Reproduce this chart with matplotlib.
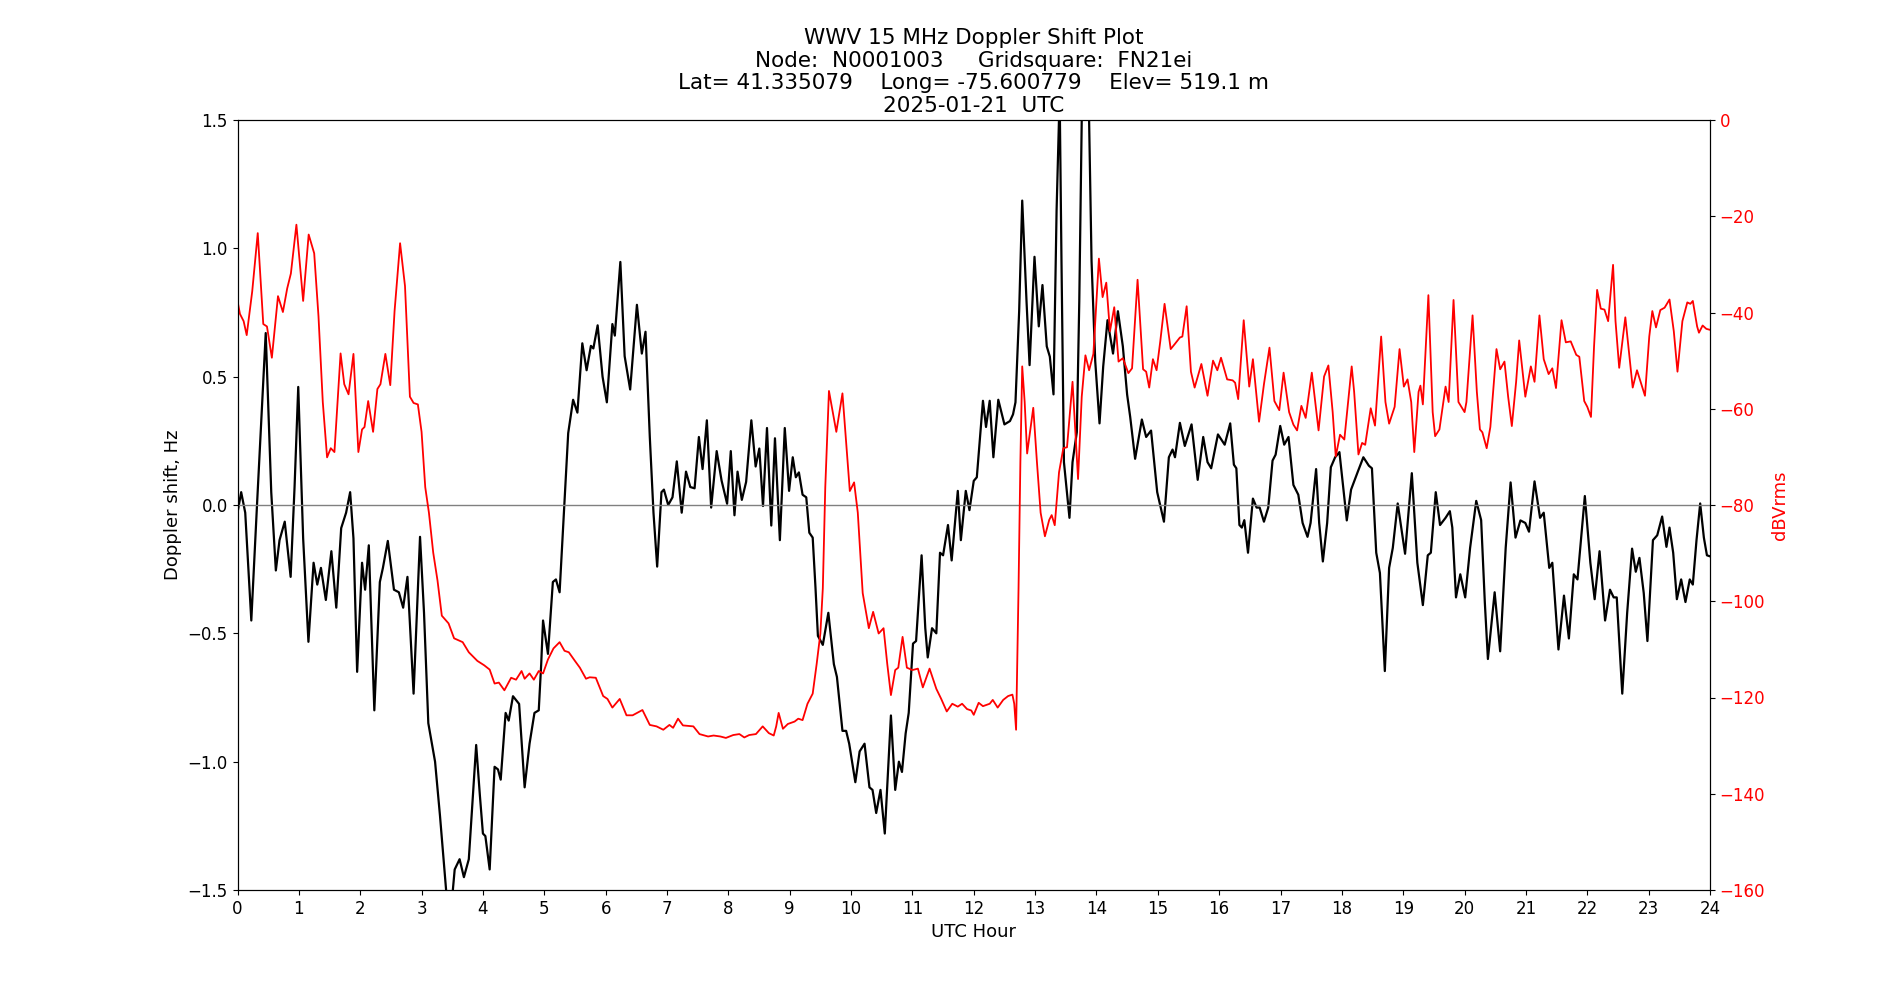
import matplotlib
matplotlib.use("Agg")
import matplotlib.pyplot as plt

title_lines = [
    "WWV 15 MHz Doppler Shift Plot",
    "Node:  N0001003     Gridsquare:  FN21ei",
    "Lat= 41.335079    Long= -75.600779    Elev= 519.1 m",
    "2025-01-21  UTC",
]

doppler_hours = [
    0.00, 0.06, 0.126, 0.225, 0.32, 0.46, 0.55, 0.625, 0.685, 0.77, 0.866, 0.93, 0.99,
    1.07, 1.156, 1.24, 1.30, 1.36, 1.44, 1.53, 1.61, 1.69, 1.77, 1.836, 1.89, 1.95,
    2.03, 2.08, 2.14, 2.23, 2.32, 2.37, 2.45, 2.55, 2.63, 2.70, 2.77, 2.87, 2.975,
    3.04, 3.11, 3.22, 3.30, 3.40, 3.46, 3.51, 3.54, 3.62, 3.69, 3.77, 3.89, 3.95,
    4.00, 4.04, 4.11, 4.19, 4.245, 4.29, 4.37, 4.42, 4.49, 4.59, 4.68, 4.76, 4.84, 4.91, 4.95, 4.98,
    5.06, 5.14, 5.19, 5.25, 5.33, 5.39, 5.47, 5.54, 5.62, 5.69, 5.76, 5.80, 5.87, 5.95,
    6.02, 6.11, 6.15, 6.24, 6.31, 6.40, 6.51, 6.59, 6.65, 6.72, 6.78, 6.84, 6.91, 6.95,
    7.02, 7.09, 7.16, 7.24, 7.31, 7.38, 7.45, 7.52, 7.58, 7.65, 7.72, 7.81, 7.89, 7.98,
    8.04, 8.10, 8.15, 8.22, 8.29, 8.375, 8.445, 8.505, 8.565, 8.63, 8.70, 8.76, 8.84, 8.92, 8.99,
    9.05, 9.10, 9.15, 9.21, 9.27, 9.32, 9.375, 9.42, 9.46, 9.54, 9.63, 9.72, 9.77, 9.86, 9.92, 9.97,
    10.07, 10.14, 10.22, 10.30, 10.35, 10.41, 10.48, 10.55, 10.65, 10.72, 10.78, 10.83, 10.89, 10.94,
    11.01, 11.06, 11.15, 11.21, 11.25, 11.32, 11.39, 11.45, 11.50, 11.58, 11.64, 11.74, 11.79, 11.87, 11.93,
    12.00, 12.05, 12.15, 12.20, 12.26, 12.32, 12.40, 12.50, 12.59, 12.64, 12.68, 12.74, 12.79, 12.86, 12.91, 12.99,
    13.06, 13.12, 13.19, 13.24, 13.30, 13.35, 13.40, 13.43, 13.47, 13.56, 13.61, 13.68, 13.72, 13.76, 13.82, 13.88, 13.92, 13.98,
    14.05, 14.11, 14.18, 14.27, 14.35, 14.43, 14.50, 14.55, 14.63, 14.74, 14.81, 14.89, 14.99,
    15.10, 15.18, 15.24, 15.28, 15.36, 15.44, 15.55, 15.65, 15.74, 15.81, 15.87, 15.98,
    16.09, 16.18, 16.24, 16.28, 16.33, 16.37, 16.41, 16.47, 16.55, 16.61, 16.66, 16.73, 16.80, 16.87, 16.92, 16.995,
    17.06, 17.13, 17.21, 17.29, 17.36, 17.44, 17.49, 17.58, 17.63, 17.69, 17.76, 17.82, 17.89, 17.96,
    18.03, 18.08, 18.15, 18.26, 18.35, 18.44, 18.49, 18.56, 18.62, 18.70, 18.77, 18.83, 18.91,
    19.03, 19.14, 19.23, 19.32, 19.40, 19.45, 19.53, 19.60, 19.69, 19.76, 19.80, 19.86, 19.93,
    20.01, 20.09, 20.19, 20.27, 20.33, 20.38, 20.49, 20.58, 20.67, 20.75, 20.83, 20.91, 20.99,
    21.05, 21.14, 21.23, 21.29, 21.38, 21.43, 21.53, 21.62, 21.70, 21.78, 21.84, 21.96,
    22.05, 22.12, 22.20, 22.29, 22.37, 22.43, 22.48, 22.57, 22.65, 22.73, 22.79, 22.85, 22.92, 22.98,
    23.07, 23.14, 23.22, 23.29, 23.34, 23.40, 23.46, 23.53, 23.60, 23.67, 23.72, 23.78, 23.84, 23.90, 23.95, 24.00,
]

doppler_hz = [
    -0.03, 0.05, -0.03, -0.45, 0.01, 0.67, 0.05, -0.255, -0.137, -0.065, -0.28, 0.07, 0.46,
    -0.13, -0.533, -0.225, -0.31, -0.245, -0.37, -0.18, -0.40, -0.09, -0.03, 0.05, -0.13, -0.65,
    -0.225, -0.33, -0.157, -0.80, -0.30, -0.245, -0.14, -0.33, -0.34, -0.40, -0.28, -0.735, -0.124,
    -0.42, -0.85, -1.0, -1.21, -1.5, -1.62, -1.5, -1.42, -1.38, -1.45, -1.38, -0.935, -1.13,
    -1.28, -1.29, -1.42, -1.02, -1.03, -1.07, -0.81, -0.84, -0.745, -0.775, -1.10, -0.93, -0.81, -0.80, -0.62, -0.45,
    -0.58, -0.30, -0.29, -0.34, 0.01, 0.28, 0.41, 0.36, 0.63, 0.525, 0.62, 0.61, 0.70, 0.50,
    0.40, 0.705, 0.66, 0.947, 0.58, 0.45, 0.78, 0.59, 0.675, 0.265, -0.03, -0.24, 0.05, 0.06,
    0.0, 0.03, 0.17, -0.03, 0.13, 0.07, 0.065, 0.265, 0.14, 0.33, -0.01, 0.21, 0.095, 0.005,
    0.21, -0.04, 0.13, 0.02, 0.09, 0.33, 0.15, 0.22, -0.004, 0.30, -0.08, 0.26, -0.137, 0.30, 0.055,
    0.186, 0.108, 0.127, 0.04, 0.03, -0.108, -0.127, -0.32, -0.51, -0.545, -0.42, -0.62, -0.67, -0.88, -0.88, -0.93,
    -1.08, -0.96, -0.93, -1.10, -1.11, -1.20, -1.11, -1.28, -0.82, -1.11, -1.0, -1.04, -0.89, -0.81,
    -0.54, -0.53, -0.196, -0.48, -0.594, -0.48, -0.50, -0.186, -0.196, -0.078, -0.216, 0.055, -0.137, 0.055, -0.02,
    0.094, 0.108, 0.406, 0.304, 0.406, 0.186, 0.41, 0.314, 0.327, 0.353, 0.40, 0.755, 1.186, 0.794, 0.545, 0.967,
    0.696, 0.857, 0.618, 0.578, 0.431, 1.147, 1.6, 0.95, 0.167, -0.05, 0.167, 0.284, 0.794, 1.5, 1.75, 1.5, 0.95, 0.56,
    0.318, 0.54, 0.72, 0.59, 0.755, 0.618, 0.43, 0.343, 0.18, 0.333, 0.265, 0.29, 0.05,
    -0.065, 0.186, 0.216, 0.186, 0.32, 0.23, 0.314, 0.098, 0.265, 0.167, 0.143, 0.275,
    0.235, 0.318, 0.157, 0.143, -0.078, -0.088, -0.059, -0.186, 0.025, -0.01, -0.01, -0.065, -0.01, 0.173, 0.196, 0.308,
    0.235, 0.265, 0.078, 0.04, -0.07, -0.124, -0.07, 0.14, -0.07, -0.22, -0.07, 0.147, 0.186, 0.206,
    0.05, -0.06, 0.06, 0.13, 0.186, 0.153, 0.143, -0.186, -0.265, -0.647, -0.245, -0.167, 0.006,
    -0.19, 0.124, -0.225, -0.39, -0.196, -0.186, 0.05, -0.078, -0.05, -0.024, -0.088, -0.36, -0.27,
    -0.36, -0.167, 0.016, -0.059, -0.38, -0.60, -0.34, -0.57, -0.167, 0.088, -0.127, -0.06, -0.07,
    -0.104, 0.092, -0.05, -0.03, -0.245, -0.225, -0.563, -0.353, -0.52, -0.27, -0.29, 0.035,
    -0.225, -0.367, -0.18, -0.45, -0.33, -0.36, -0.36, -0.735, -0.42, -0.17, -0.26, -0.206, -0.343, -0.53,
    -0.137, -0.118, -0.045, -0.163, -0.088, -0.186, -0.367, -0.29, -0.378, -0.29, -0.31, -0.137, 0.006, -0.127, -0.196, -0.2,
]

signal_hours = [
    0.00, 0.04, 0.10, 0.15, 0.24, 0.33, 0.42, 0.48, 0.56, 0.62, 0.66, 0.74, 0.81, 0.87, 0.96,
    1.07, 1.16, 1.25, 1.32, 1.39, 1.46, 1.52, 1.58, 1.68, 1.74, 1.81, 1.89, 1.97,
    2.03, 2.07, 2.13, 2.21, 2.28, 2.33, 2.41, 2.49, 2.56, 2.65, 2.73, 2.81, 2.87, 2.94,
    3.00, 3.06, 3.12, 3.19, 3.26, 3.33, 3.44, 3.53, 3.67, 3.77, 3.91,
    4.02, 4.11, 4.19, 4.26, 4.35, 4.46, 4.54, 4.63, 4.68, 4.76, 4.83, 4.91, 4.98,
    5.06, 5.15, 5.25, 5.33, 5.40, 5.50, 5.58, 5.68, 5.74, 5.84, 5.96,
    6.03, 6.11, 6.23, 6.34, 6.44, 6.60, 6.72, 6.83, 6.94,
    7.04, 7.10, 7.18, 7.26, 7.43, 7.53, 7.67, 7.76, 7.87, 7.96,
    8.08, 8.18, 8.26, 8.34, 8.45, 8.56, 8.66, 8.74, 8.78, 8.82, 8.89, 8.97,
    9.08, 9.14, 9.21, 9.29, 9.375, 9.44, 9.50, 9.54, 9.58, 9.64, 9.76, 9.86, 9.92, 9.98,
    10.05, 10.11, 10.19, 10.29, 10.36, 10.45, 10.53, 10.59, 10.65, 10.72, 10.77, 10.84, 10.91,
    11.00, 11.09, 11.17, 11.28, 11.39, 11.47, 11.56, 11.65, 11.74, 11.81, 11.89, 11.96,
    12.00, 12.08, 12.15, 12.26, 12.31, 12.39, 12.48, 12.56, 12.63, 12.66, 12.69, 12.73, 12.76, 12.79, 12.83, 12.87, 12.97,
    13.03, 13.09, 13.16, 13.23, 13.27, 13.32, 13.39, 13.46, 13.52, 13.61, 13.70, 13.76, 13.82, 13.88, 13.95,
    14.04, 14.10, 14.16, 14.22, 14.29, 14.36, 14.43, 14.52, 14.58, 14.67, 14.76, 14.81, 14.86, 14.92, 14.98,
    15.04, 15.11, 15.21, 15.28, 15.36, 15.40, 15.47, 15.54, 15.60, 15.71, 15.81, 15.90, 15.97,
    16.03, 16.13, 16.22, 16.26, 16.31, 16.40, 16.49, 16.55, 16.65, 16.73, 16.82, 16.90, 16.98,
    17.05, 17.14, 17.21, 17.27, 17.34, 17.41, 17.51, 17.62, 17.71, 17.78, 17.85, 17.90, 17.97,
    18.04, 18.16, 18.20, 18.27, 18.33, 18.38, 18.47, 18.54, 18.64, 18.71, 18.77, 18.86, 18.94,
    19.01, 19.07, 19.13, 19.18, 19.25, 19.28, 19.32, 19.41, 19.48, 19.52, 19.59, 19.69, 19.74, 19.82, 19.90,
    20.00, 20.03, 20.13, 20.20, 20.25, 20.29, 20.36, 20.42, 20.52, 20.58, 20.65, 20.71, 20.77, 20.84, 20.89, 20.99,
    21.08, 21.14, 21.22, 21.29, 21.37, 21.43, 21.49, 21.58, 21.65, 21.73, 21.82, 21.87, 21.95,
    22.00, 22.06, 22.11, 22.16, 22.22, 22.28, 22.34, 22.42, 22.46, 22.52, 22.62, 22.74, 22.81, 22.94,
    23.01, 23.06, 23.12, 23.19, 23.26, 23.34, 23.41, 23.47, 23.55, 23.63, 23.68, 23.72, 23.79, 23.82, 23.88, 23.94, 24.00,
]

signal_dbv = [
    -37.6, -40.3, -41.8, -44.7, -35.6, -23.5, -42.4, -42.9, -49.4, -41.8, -36.6, -39.9, -35.0, -31.9, -21.75,
    -37.6, -23.8, -27.7, -40.8, -58.6, -70.1, -68.2, -69.0, -48.5, -54.9, -57.0, -48.6, -69.0,
    -64.3, -63.8, -58.4, -64.8, -55.9, -54.9, -48.6, -55.1, -39.7, -25.6, -34.5, -57.5, -58.8, -59.1,
    -64.8, -76.3, -81.6, -89.9, -95.7, -103.0, -104.6, -107.7, -108.5, -110.6, -112.4,
    -113.3, -114.2, -117.1, -116.9, -118.5, -115.9, -116.3, -114.5, -116.1, -115.0, -116.3, -114.5, -115.0,
    -112.1, -109.8, -108.5, -110.3, -110.6, -112.4, -113.8, -116.1, -115.8, -115.9, -119.7,
    -120.3, -122.1, -120.3, -123.7, -123.7, -122.6, -125.7, -126.0, -126.7,
    -125.7, -126.3, -124.4, -125.8, -126.0, -127.6, -128.1, -127.9, -128.1, -128.4,
    -127.8, -127.6, -128.3, -127.8, -127.6, -126.0, -127.4, -127.9, -126.0, -123.2, -126.5, -125.5,
    -125.0, -124.4, -124.7, -121.3, -119.2, -113.0, -106.7, -97.3, -76.3, -56.3, -64.8, -56.8, -66.9, -77.1,
    -75.3, -81.6, -98.3, -105.6, -102.2, -106.7, -105.6, -113.0, -119.5, -114.3, -113.8, -107.4, -113.8,
    -114.3, -114.0, -117.9, -114.0, -118.2, -120.3, -122.9, -121.3, -121.9, -121.3, -122.4, -122.7,
    -123.6, -121.1, -121.8, -121.3, -120.5, -122.1, -120.5, -119.7, -119.4, -121.3, -126.7, -97.3, -71.1, -51.2, -58.6, -69.3, -59.8,
    -71.1, -81.6, -86.5, -83.1, -82.1, -84.2, -73.2, -68.2, -68.0, -54.4, -74.6, -57.5, -48.9, -52.0, -48.6,
    -28.8, -36.8, -33.8, -43.9, -38.9, -50.2, -49.5, -52.6, -51.6, -33.2, -51.8, -52.3, -55.6, -49.7, -52.0,
    -46.0, -38.2, -47.6, -46.5, -45.2, -45.0, -38.7, -52.3, -55.6, -50.7, -57.3, -50.0, -52.0,
    -49.4, -53.9, -54.1, -54.6, -58.0, -41.6, -55.4, -49.7, -62.7, -54.9, -47.3, -58.4, -60.3,
    -52.5, -60.7, -63.3, -64.5, -59.4, -61.9, -52.5, -64.5, -53.3, -51.0, -60.7, -69.9, -65.4,
    -66.4, -51.2, -56.5, -69.5, -67.1, -67.5, -59.9, -63.5, -45.0, -58.6, -63.1, -59.6, -47.6,
    -55.4, -53.9, -58.6, -69.0, -56.5, -55.2, -59.1, -36.4, -60.7, -65.7, -64.3, -55.4, -58.6, -37.4, -58.6,
    -60.7, -58.6, -40.6, -56.5, -64.3, -64.9, -68.2, -63.8, -47.6, -51.8, -50.2, -57.5, -63.6, -54.4, -45.8, -57.5,
    -51.2, -54.4, -40.6, -49.7, -52.8, -51.6, -55.7, -41.6, -46.2, -46.0, -48.8, -49.2, -58.4,
    -59.6, -61.7, -47.1, -35.3, -39.2, -39.4, -41.8, -30.1, -41.8, -51.5, -41.0, -55.6, -52.0, -57.3,
    -45.0, -39.7, -43.1, -39.5, -39.0, -37.3, -43.9, -52.3, -41.8, -37.9, -38.2, -37.6, -42.9, -44.2, -42.7, -43.4, -43.6,
]

hour_ticks = list(range(0, 25))

fig, ax = plt.subplots(figsize=(19, 10), dpi=100)
ax.plot(doppler_hours, doppler_hz, color="black", linewidth=1.6, solid_joinstyle="round")
ax.axhline(0, color="grey", linewidth=1)
ax.set_xlim(0, 24)
ax.set_ylim(-1.5, 1.5)
ax.set_xticks(hour_ticks)
ax.set_yticks([-1.5, -1.0, -0.5, 0.0, 0.5, 1.0, 1.5])
ax.tick_params(labelsize=12)
ax.set_xlabel("UTC Hour", fontsize=13)
ax.set_ylabel("Doppler shift, Hz", fontsize=13)
ax.set_title("\n".join(title_lines), fontsize=15.5, linespacing=1.15)

ax2 = ax.twinx()
ax2.plot(signal_hours, signal_dbv, color="red", linewidth=1.3, solid_joinstyle="round")
ax2.set_ylim(-160, 0)
ax2.set_ylabel("dBVrms", color="red", fontsize=13)
ax2.tick_params(axis="y", labelcolor="red", labelsize=12)

fig.savefig("out.png", dpi=100)
